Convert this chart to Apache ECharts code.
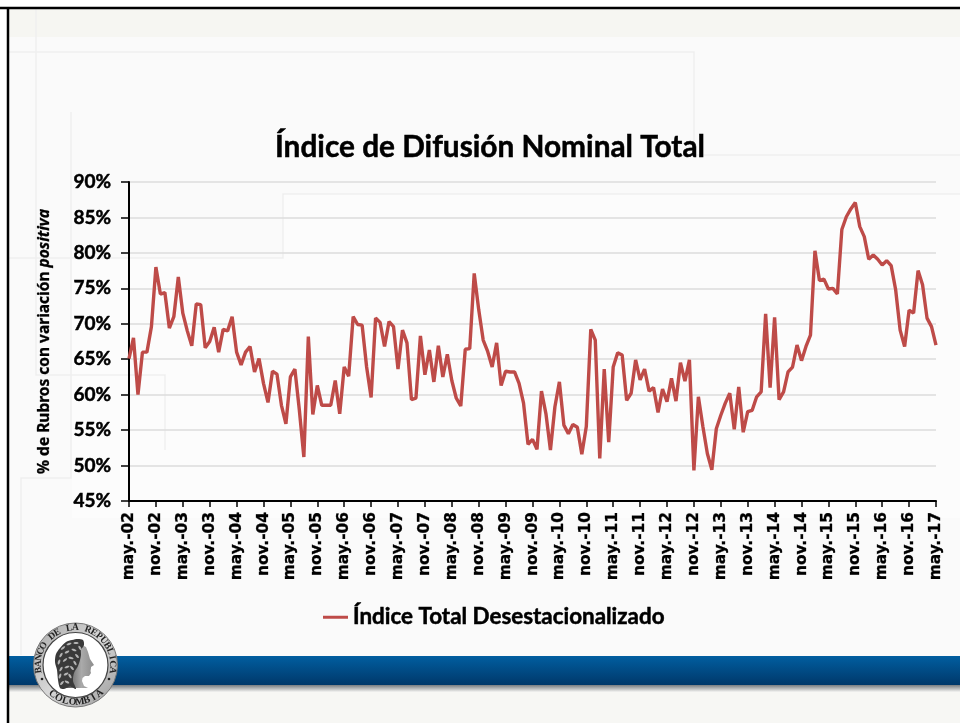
<!DOCTYPE html>
<html><head><meta charset="utf-8">
<style>html,body{margin:0;padding:0;background:#fff}#c{width:960px;height:723px}</style>
<script src="https://cdn.jsdelivr.net/npm/echarts@6/dist/echarts.min.js"></script>
</head><body><div id="c"></div>
<script>
const titleText = 'Índice de Difusión Nominal Total';
const seriesName = 'Índice Total Desestacionalizado';
const yAxisStart = '% de Rubros con variación ';
const yAxisEnd = 'positiva';
const monthNames = ['may.', 'jun.', 'jul.', 'ago.', 'sep.', 'oct.', 'nov.', 'dic.', 'ene.', 'feb.', 'mar.', 'abr.'];
const indexValues = [
 65.1,68,60,66,66,69.6,78,74.2,74.4,69.4,71,76.6,71.5,69,66.9,72.8,72.7,66.6,67.5,69.5,
 66,69.2,69,71,66,64.2,66,66.8,63.2,65.1,61.6,58.9,63.3,62.9,58.5,55.9,62.5,63.6,57.8,51.2,
 68.2,57.2,61.3,58.5,58.5,58.5,62,57.3,63.9,62.6,71,69.9,69.8,63.9,59.6,70.8,70.2,66.8,70.3,69.6,
 63.6,69.1,67.3,59.3,59.5,68.3,62.8,66.3,61.8,66.9,62.5,65.7,62,59.5,58.4,66.4,66.5,77.1,72,67.7,
 66.1,63.9,67.3,61.3,63.3,63.2,63.2,61.6,58.8,53,53.7,52.3,60.5,57.3,52.2,58.3,61.8,55.7,54.5,55.8,
 55.4,51.6,55.5,69.2,67.7,51,63.6,53.3,63.9,65.9,65.6,59.2,60.2,64.9,62.1,63.6,60.5,61,57.5,60.8,
 59,62.3,59.1,64.5,61.9,64.9,49.3,59.7,55.5,51.7,49.4,55.2,57.1,58.8,60.2,55.1,61.1,54.7,57.6,57.8,
 59.7,60.4,71.4,61,70.9,59.3,60.4,63.2,63.9,67,64.8,66.8,68.4,80.3,76.1,76.3,74.9,75,74.2,83.3,
 85.1,86.2,87.1,83.7,82.3,79.1,79.7,79.1,78.3,78.9,78.2,74.8,69.1,66.8,71.9,71.5,77.5,75.5,70.8,69.6,67
];
const categories = indexValues.map((_, i) => {
  const yr = 2 + Math.floor((i + 4) / 12);
  return monthNames[i % 12] + '-' + String(yr).padStart(2, '0');
});

const faint = '#efefef';
function pl(points, stroke) {
  return {type:'polyline', z:-5, silent:true, shape:{points}, style:{stroke:stroke||faint, lineWidth:1.5, fill:null}};
}
const graphics = [
  {type:'rect', z:-20, silent:true, shape:{x:0,y:0,width:960,height:723}, style:{fill:'#ffffff'}},
  {type:'rect', z:-19, silent:true, shape:{x:7,y:7,width:953,height:716}, style:{fill:'#fafafa'}},
  {type:'rect', z:-18, silent:true, shape:{x:9,y:9,width:951,height:28}, style:{fill:'#f6f6f2'}},
  {type:'rect', z:-18, silent:true, shape:{x:72,y:258,width:888,height:260}, style:{fill:'#fcfcfc'}},
  {type:'rect', z:-18, silent:true, shape:{x:283,y:194,width:677,height:64}, style:{fill:'#fcfcfc'}},
  pl([[36,9],[36,375],[165,375],[165,450]]),
  pl([[71,112],[71,478],[21,478],[21,655]]),
  pl([[9,52],[694,52],[694,155],[960,155]]),
  pl([[9,258],[283,258],[283,194],[960,194]]),
  {type:'rect', z:-4, silent:true, shape:{x:9,y:685,width:951,height:7}, style:{fill:{type:'linear',x:0,y:0,x2:0,y2:1,colorStops:[{offset:0,color:'#787c80'},{offset:1,color:'#f4f4f2'}]}}},
  {type:'rect', z:-3, silent:true, shape:{x:9,y:656,width:951,height:29}, style:{fill:{type:'linear',x:0,y:0,x2:0,y2:1,colorStops:[{offset:0,color:'#015ea0'},{offset:1,color:'#00386a'}]}}},
  {type:'rect', z:-4, silent:true, shape:{x:9,y:692,width:951,height:31}, style:{fill:'#f7f7f4'}},
  {type:'line', z:-2, silent:true, shape:{x1:0,y1:8,x2:960,y2:8}, style:{stroke:'#000',lineWidth:2.5}},
  {type:'line', z:-2, silent:true, shape:{x1:8,y1:7,x2:8,y2:723}, style:{stroke:'#000',lineWidth:2.5}}
];
// seal
const cx = 75.5, cy = 665;
graphics.push(
  {type:'circle', z:1, silent:true, shape:{cx,cy,r:42}, style:{fill:{type:'linear',x:0,y:0,x2:1,y2:1,colorStops:[{offset:0,color:'#a8a8a8'},{offset:0.5,color:'#d8d8d8'},{offset:1,color:'#9a9a9a'}]}, stroke:'#777', lineWidth:1}},
  {type:'circle', z:2, silent:true, shape:{cx,cy,r:32.5}, style:{fill:'#ffffff', stroke:'#444', lineWidth:1.2}},
  {type:'polygon', z:3, silent:true, shape:{points:[[74,646],[80,644],[86,647],[88,652],[90,659],[94,665],[91,667],[91,668],[90.5,671],[91,673],[89,676],[85,676],[82.5,678],[82,681],[84,686],[88,688],[66,688]]}, style:{fill:{type:'linear',x:0,y:0,x2:1,y2:0,colorStops:[{offset:0,color:'#555'},{offset:0.55,color:'#aaa'},{offset:1,color:'#8c8c8c'}]}}},
  {type:'polygon', z:4, silent:true, shape:{smooth:0.3, points:[[60,648],[66,642],[72,640],[78,639],[83,640],[84,645],[81,650],[81,655],[80,660],[78,666],[74,673],[73,681],[76,689],[70,686.5],[64,689],[60,688],[58,680],[57,670],[55,662],[56,654]]}, style:{fill:'#3a3a3a'}}
);
[[63,648,-40],[69,644,-20],[76,643,0],[80,648,60],[61,655,-60],[67,652,-30],[74,650,20],[77,656,50],[59,662,-70],[65,660,-40],[71,658,10],[75,663,60],[61,669,-60],[67,667,-20],[72,668,50],[60,676,-70],[66,674,-30],[70,676,60],[62,683,-50],[67,682,30]].forEach(l => {
  graphics.push({type:'ellipse', z:5, silent:true, rotation:-l[2]*Math.PI/180, originX:l[0], originY:l[1], shape:{cx:l[0],cy:l[1],rx:2.6,ry:1.1}, style:{fill:'#b4b4b4'}});
});
function arcText(str, startDeg, stepDeg, bottom, size) {
  [...str].forEach((ch, i) => {
    const a = (startDeg + i*stepDeg)*Math.PI/180;
    const r = 37.2;
    graphics.push({type:'text', z:6, silent:true, x:cx + r*Math.sin(a), y:cy - r*Math.cos(a),
      rotation: bottom ? Math.PI - a : -a,
      style:{text:ch, align:'center', verticalAlign:'middle', font:'bold '+size+'px "Liberation Serif"', fill:'#222'}});
  });
}
arcText('BANCO DE LA REPUBLICA', -98, 9.8, false, 9.5);
arcText('COLOMBIA', 218, -11.2, true, 10);
graphics.push({type:'circle', z:6, silent:true, shape:{cx:cx-33.5,cy:cy+14,r:1.3}, style:{fill:'#222'}},
              {type:'circle', z:6, silent:true, shape:{cx:cx+33.5,cy:cy+14,r:1.3}, style:{fill:'#222'}});

const headFont = '"Lato"';
const tickFont = '"DejaVu Sans"';
const chart = echarts.init(document.getElementById('c'), null, {renderer:'canvas', width:960, height:723});
chart.setOption({
  animation:false,
  backgroundColor:'transparent',
  title:{text:titleText, left:270, top:127, textStyle:{fontFamily:headFont, fontWeight:'bold', fontSize:29.8, color:'#000', textBorderColor:'#000', textBorderWidth:0.5}},
  legend:{left:318, top:601, itemWidth:25, itemHeight:3, itemGap:0, icon:'rect', data:[seriesName],
    textStyle:{fontFamily:headFont, fontWeight:'bold', fontSize:22.4, color:'#000', textBorderColor:'#000', textBorderWidth:0.5}},
  grid:{left:129, right:24, top:182, bottom:222, containLabel:false},
  xAxis:{type:'category', data:categories, boundaryGap:false,
    axisLine:{lineStyle:{color:'#000', width:2}},
    axisTick:{alignWithLabel:true, interval:5, length:6, lineStyle:{color:'#000', width:1.5}},
    axisLabel:{interval:5, rotate:90, margin:11, fontFamily:tickFont, fontWeight:'bold', fontSize:15.4, color:'#000', textBorderColor:'#000', textBorderWidth:0.3},
    splitLine:{show:false}},
  yAxis:{type:'value', min:45, max:90, interval:5,
    name:'{a|'+yAxisStart+'}{b|'+yAxisEnd+'}', nameLocation:'middle', nameGap:76, nameRotate:90,
    nameTextStyle:{fontFamily:'"Noto Sans"', fontWeight:'bold', rich:{
      a:{fontFamily:'"Noto Sans"', fontWeight:'bold', fontSize:15.5, color:'#000', textBorderColor:'#000', textBorderWidth:0.3},
      b:{fontFamily:'"Noto Sans"', fontWeight:'bold', fontStyle:'italic', fontSize:15.5, color:'#000', textBorderColor:'#000', textBorderWidth:0.3}}},
    axisLine:{show:true, lineStyle:{color:'#000', width:2}},
    axisTick:{show:true, length:8, lineStyle:{color:'#000', width:1.5}},
    axisLabel:{margin:18, formatter:'{value}%', fontFamily:headFont, fontWeight:'bold', fontSize:19, color:'#000', textBorderColor:'#000', textBorderWidth:0.5},
    splitLine:{show:true, lineStyle:{color:'#dcdcdc', width:1.5}}},
  series:[{name:seriesName, type:'line', data:indexValues, symbol:'none', smooth:false,
    lineStyle:{color:'#be4b48', width:3.4}, itemStyle:{color:'#be4b48'}}],
  graphic:{elements:graphics}
});
</script></body></html>
